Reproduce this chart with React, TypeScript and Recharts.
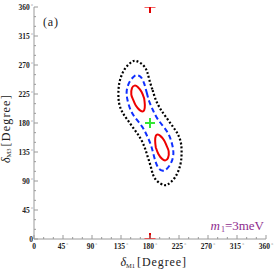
import React from "react";
import { ComposedChart, XAxis, YAxis, Line, Scatter } from "recharts";

// tick positions (degrees)
const axisTicks = [0, 15, 30, 45, 60, 75, 90, 105, 120, 135, 150, 165, 180, 195, 210, 225, 240, 255, 270, 285, 300, 315, 330, 345, 360];
const labelTicks = [0, 45, 90, 135, 180, 225, 270, 315, 360];

// contour lines, (delta_M1, delta_M3) in degrees
const outerContour = [
  { x: 184, y: 231 }, { x: 189, y: 216 }, { x: 196, y: 202 }, { x: 205, y: 189 },
  { x: 215, y: 175 }, { x: 223, y: 163 }, { x: 228, y: 149 }, { x: 229, y: 133 },
  { x: 227, y: 115 }, { x: 219, y: 96 }, { x: 208, y: 85 }, { x: 201, y: 84 },
  { x: 192, y: 89 }, { x: 185, y: 99 }, { x: 181, y: 113 }, { x: 176, y: 129 },
  { x: 171, y: 144 }, { x: 164, y: 158 }, { x: 155, y: 171 }, { x: 145, y: 185 },
  { x: 137, y: 197 }, { x: 132, y: 211 }, { x: 131, y: 227 }, { x: 133, y: 245 },
  { x: 141, y: 264 }, { x: 152, y: 275 }, { x: 159, y: 276 }, { x: 168, y: 271 },
  { x: 175, y: 261 }, { x: 179, y: 247 }, { x: 184, y: 231 },
];

const middleContour = [
  { x: 175, y: 227 }, { x: 179, y: 213 }, { x: 185, y: 199 }, { x: 192, y: 186 },
  { x: 202, y: 173 }, { x: 210, y: 160 }, { x: 215, y: 144 }, { x: 216, y: 129 },
  { x: 211, y: 115 }, { x: 204, y: 107 }, { x: 200, y: 106 }, { x: 194, y: 109 },
  { x: 189, y: 119 }, { x: 185, y: 133 }, { x: 181, y: 147 }, { x: 175, y: 161 },
  { x: 168, y: 174 }, { x: 158, y: 187 }, { x: 150, y: 200 }, { x: 145, y: 216 },
  { x: 144, y: 231 }, { x: 149, y: 245 }, { x: 156, y: 253 }, { x: 160, y: 254 },
  { x: 166, y: 251 }, { x: 171, y: 241 }, { x: 175, y: 227 },
];

const innerUpper = [
  { x: 171, y: 218 }, { x: 172, y: 208 }, { x: 171, y: 200 }, { x: 168, y: 198 },
  { x: 164, y: 200 }, { x: 158, y: 207 }, { x: 154, y: 216 }, { x: 151, y: 224 },
  { x: 152, y: 234 }, { x: 156, y: 238 }, { x: 161, y: 236 }, { x: 167, y: 228 },
  { x: 171, y: 218 },
];

const innerLower = [
  { x: 189, y: 142 }, { x: 188, y: 152 }, { x: 189, y: 160 }, { x: 192, y: 162 },
  { x: 196, y: 160 }, { x: 202, y: 153 }, { x: 206, y: 144 }, { x: 209, y: 136 },
  { x: 208, y: 126 }, { x: 204, y: 122 }, { x: 199, y: 124 }, { x: 193, y: 132 },
  { x: 189, y: 142 },
];

const bestFit = [{ x: 180, y: 180 }];
const edgeFits = [{ x: 180, y: 360 }, { x: 180, y: 0 }];

const FRAME = "#9a9a9a";
const SERIF = "Liberation Serif, serif";

const isLabeled = (v: number) => labelTicks.includes(v);

function DegLabel({ x, y, v, anchor }: any) {
  return (
    <text x={x} y={y} textAnchor={anchor} fontSize={7.5} fontWeight="bold" fontFamily={SERIF} fill="#222">
      {v}
      {v !== 0 && (
        <tspan fontSize={5} dx={1.2} dy={-2.5}>
          °
        </tspan>
      )}
    </text>
  );
}

function BottomTick({ x, y, payload }: any) {
  const v = payload.value;
  const len = isLabeled(v) ? 4 : 2;
  return (
    <g>
      <line x1={x} y1={y} x2={x} y2={y - len} stroke={FRAME} />
      {isLabeled(v) && <DegLabel x={x} y={y + 9.5} v={v} anchor="middle" />}
    </g>
  );
}

function TopTick({ x, y, payload }: any) {
  const len = isLabeled(payload.value) ? 4 : 2;
  return <line x1={x} y1={y} x2={x} y2={y + len} stroke={FRAME} />;
}

function LeftTick({ x, y, payload }: any) {
  const v = payload.value;
  const len = isLabeled(v) ? 4 : 2;
  return (
    <g>
      <line x1={x} y1={y} x2={x + len} y2={y} stroke={FRAME} />
      {isLabeled(v) && <DegLabel x={x - 1} y={y + 2.5} v={v} anchor="end" />}
    </g>
  );
}

function RightTick({ x, y, payload }: any) {
  const len = isLabeled(payload.value) ? 4 : 2;
  return <line x1={x} y1={y} x2={x - len} y2={y} stroke={FRAME} />;
}

const GreenPlus = (p: any) => (
  <g>
    <line x1={p.cx - 5} x2={p.cx + 5} y1={p.cy} y2={p.cy} stroke="#33e633" strokeWidth={2} />
    <line x1={p.cx} x2={p.cx} y1={p.cy - 5} y2={p.cy + 5} stroke="#33e633" strokeWidth={2} />
  </g>
);

const RedTee = (p: any) => {
  const dir = p.payload.y > 180 ? 1 : -1;
  return (
    <g>
      <line x1={p.cx - 5.5} x2={p.cx + 5.5} y1={p.cy} y2={p.cy} stroke="#f03030" strokeWidth={1.5} />
      <line x1={p.cx} x2={p.cx} y1={p.cy} y2={p.cy + dir * 6} stroke="#e00000" strokeWidth={2} />
    </g>
  );
};

export default function App() {
  return (
    <div style={{ position: "absolute", left: 0, top: 0, width: 275, height: 272, background: "#fff" }}>
      <ComposedChart width={275} height={272} margin={{ top: 7, right: 9, bottom: 0, left: 0 }}>
        <XAxis
          xAxisId="b"
          type="number"
          dataKey="x"
          domain={[0, 360]}
          ticks={axisTicks}
          interval={0}
          height={33}
          tickSize={0}
          tickMargin={0}
          tickLine={false}
          axisLine={{ stroke: FRAME }}
          tick={(p: any) => <BottomTick {...p} />}
          allowDataOverflow
        />
        <XAxis
          xAxisId="t"
          orientation="top"
          type="number"
          domain={[0, 360]}
          ticks={axisTicks}
          interval={0}
          height={0}
          tickSize={0}
          tickMargin={0}
          tickLine={false}
          axisLine={{ stroke: FRAME }}
          tick={(p: any) => <TopTick {...p} />}
          allowDataOverflow
        />
        <YAxis
          yAxisId="l"
          type="number"
          dataKey="y"
          domain={[0, 360]}
          ticks={axisTicks}
          interval={0}
          width={34}
          tickSize={0}
          tickMargin={0}
          tickLine={false}
          axisLine={{ stroke: FRAME }}
          tick={(p: any) => <LeftTick {...p} />}
          allowDataOverflow
        />
        <YAxis
          yAxisId="r"
          orientation="right"
          type="number"
          domain={[0, 360]}
          ticks={axisTicks}
          interval={0}
          width={0}
          tickSize={0}
          tickMargin={0}
          tickLine={false}
          axisLine={{ stroke: FRAME }}
          tick={(p: any) => <RightTick {...p} />}
          allowDataOverflow
        />
        <Line
          xAxisId="b"
          yAxisId="l"
          data={outerContour}
          dataKey="y"
          type="natural"
          stroke="#000"
          strokeWidth={2.2}
          strokeDasharray="2 2"
          dot={false}
          activeDot={false}
          isAnimationActive={false}
        />
        <Line
          xAxisId="b"
          yAxisId="l"
          data={middleContour}
          dataKey="y"
          type="natural"
          stroke="#1030ff"
          strokeWidth={2}
          strokeDasharray="5 3"
          dot={false}
          activeDot={false}
          isAnimationActive={false}
        />
        <Line
          xAxisId="b"
          yAxisId="l"
          data={innerUpper}
          dataKey="y"
          type="natural"
          stroke="#ee0000"
          strokeWidth={2}
          dot={false}
          activeDot={false}
          isAnimationActive={false}
        />
        <Line
          xAxisId="b"
          yAxisId="l"
          data={innerLower}
          dataKey="y"
          type="natural"
          stroke="#ee0000"
          strokeWidth={2}
          dot={false}
          activeDot={false}
          isAnimationActive={false}
        />
        <Scatter xAxisId="b" yAxisId="l" data={bestFit} shape={GreenPlus} isAnimationActive={false} />
        <Scatter xAxisId="b" yAxisId="l" data={edgeFits} shape={RedTee} isAnimationActive={false} />
      </ComposedChart>
      <svg width={275} height={272} style={{ position: "absolute", left: 0, top: 0, pointerEvents: "none" }}>
        <text x={43} y={25.5} fontSize={12} fontFamily={SERIF} fill="#222" letterSpacing={0.8}>
          (a)
        </text>
        <text x={120.5} y={266} fontSize={12} fontFamily={SERIF} fill="#222">
          <tspan fontStyle="italic">δ</tspan>
          <tspan fontSize={6.5} dy={1.5}>M1</tspan>
          <tspan dx={2} dy={-1.5} letterSpacing={0.9}>[Degree]</tspan>
        </text>
        <text transform="translate(9.5,163) rotate(-90)" x={0} y={0} fontSize={12} fontFamily={SERIF} fill="#222">
          <tspan fontStyle="italic">δ</tspan>
          <tspan fontSize={6.5} dy={1.5}>M3</tspan>
          <tspan dx={2} dy={-1.5} letterSpacing={1.2}>[Degree]</tspan>
        </text>
        <text x={210.5} y={230} fontSize={13} fontFamily={SERIF} fill="#8e2c8e">
          <tspan fontStyle="italic">m</tspan>
          <tspan fontSize={8} dx={1} dy={2}>1</tspan>
          <tspan dy={-2}>=3meV</tspan>
        </text>
      </svg>
    </div>
  );
}
